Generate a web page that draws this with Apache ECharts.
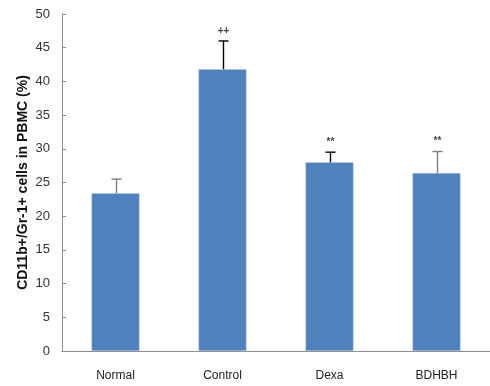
<!DOCTYPE html>
<html>
<head>
<meta charset="utf-8">
<script src="https://cdn.jsdelivr.net/npm/echarts@6/dist/echarts.min.js"></script>
<style>
html, body { margin: 0; padding: 0; background: #fff; }
#chart { width: 490px; height: 386px; }
</style>
</head>
<body>
<div id="chart"></div>
<script>
var groups = ['Normal', 'Control', 'Dexa', 'BDHBH'];
var means = [23.4, 41.8, 28.0, 26.4];
var errUpper = [25.5, 46.0, 29.5, 29.6];
var marks = ['', '++', '**', '**'];
var errColors = ['#7f7f7f', '#000000', '#000000', '#7f7f7f'];

var myChart = echarts.init(document.getElementById('chart'));

var errData = [];
for (var i = 0; i < groups.length; i++) {
    errData.push([i, means[i], errUpper[i]]);
}

var option = {
    animation: false,
    grid: { left: 62, top: 14, width: 431, height: 337 },
    xAxis: {
        type: 'category',
        data: groups,
        axisLine: { lineStyle: { color: '#8c8c8c', width: 1 } },
        axisTick: { inside: true, length: 5, lineStyle: { color: '#8c8c8c' } },
        axisLabel: { margin: 19, fontSize: 12, color: '#222', fontFamily: 'Liberation Sans' }
    },
    yAxis: {
        type: 'value',
        min: 0,
        max: 50,
        interval: 5,
        name: 'CD11b+/Gr-1+ cells in PBMC (%)',
        nameLocation: 'middle',
        nameGap: 32,
        nameMoveOverlap: false,
        nameTextStyle: { fontSize: 14, fontWeight: 'bold', color: '#111', fontFamily: 'Liberation Sans' },
        axisLine: { show: true, lineStyle: { color: '#8c8c8c' } },
        axisTick: { show: true, inside: true, length: 4, lineStyle: { color: '#8c8c8c' } },
        splitLine: { show: false },
        axisLabel: { margin: 12, fontSize: 13, color: '#333', fontFamily: 'Liberation Sans' }
    },
    series: [
        {
            type: 'bar',
            data: means,
            barWidth: 48,
            itemStyle: { color: '#4f81bd', borderColor: '#b9cde5', borderWidth: 0.5 }
        },
        {
            type: 'custom',
            data: errData,
            z: 10,
            renderItem: function (params, api) {
                var idx = api.value(0);
                var lo = api.coord([idx, api.value(1)]);
                var hi = api.coord([idx, api.value(2)]);
                var col = errColors[params.dataIndex];
                var x = Math.round(lo[0]) + 0.5;
                return {
                    type: 'group',
                    children: [
                        { type: 'line', shape: { x1: x, y1: lo[1], x2: x, y2: hi[1] },
                          style: { stroke: col, lineWidth: 1.4 } },
                        { type: 'line', shape: { x1: x - 5, y1: hi[1], x2: x + 5, y2: hi[1] },
                          style: { stroke: col, lineWidth: 1.4 } },
                        { type: 'text', x: x, y: hi[1] - 10,
                          style: { text: marks[params.dataIndex], fill: '#444', fontSize: 10,
                                   fontWeight: 'bold', align: 'center', verticalAlign: 'middle',
                                   fontFamily: 'Liberation Sans' } }
                    ]
                };
            }
        }
    ]
};
myChart.setOption(option);
</script>
</body>
</html>
